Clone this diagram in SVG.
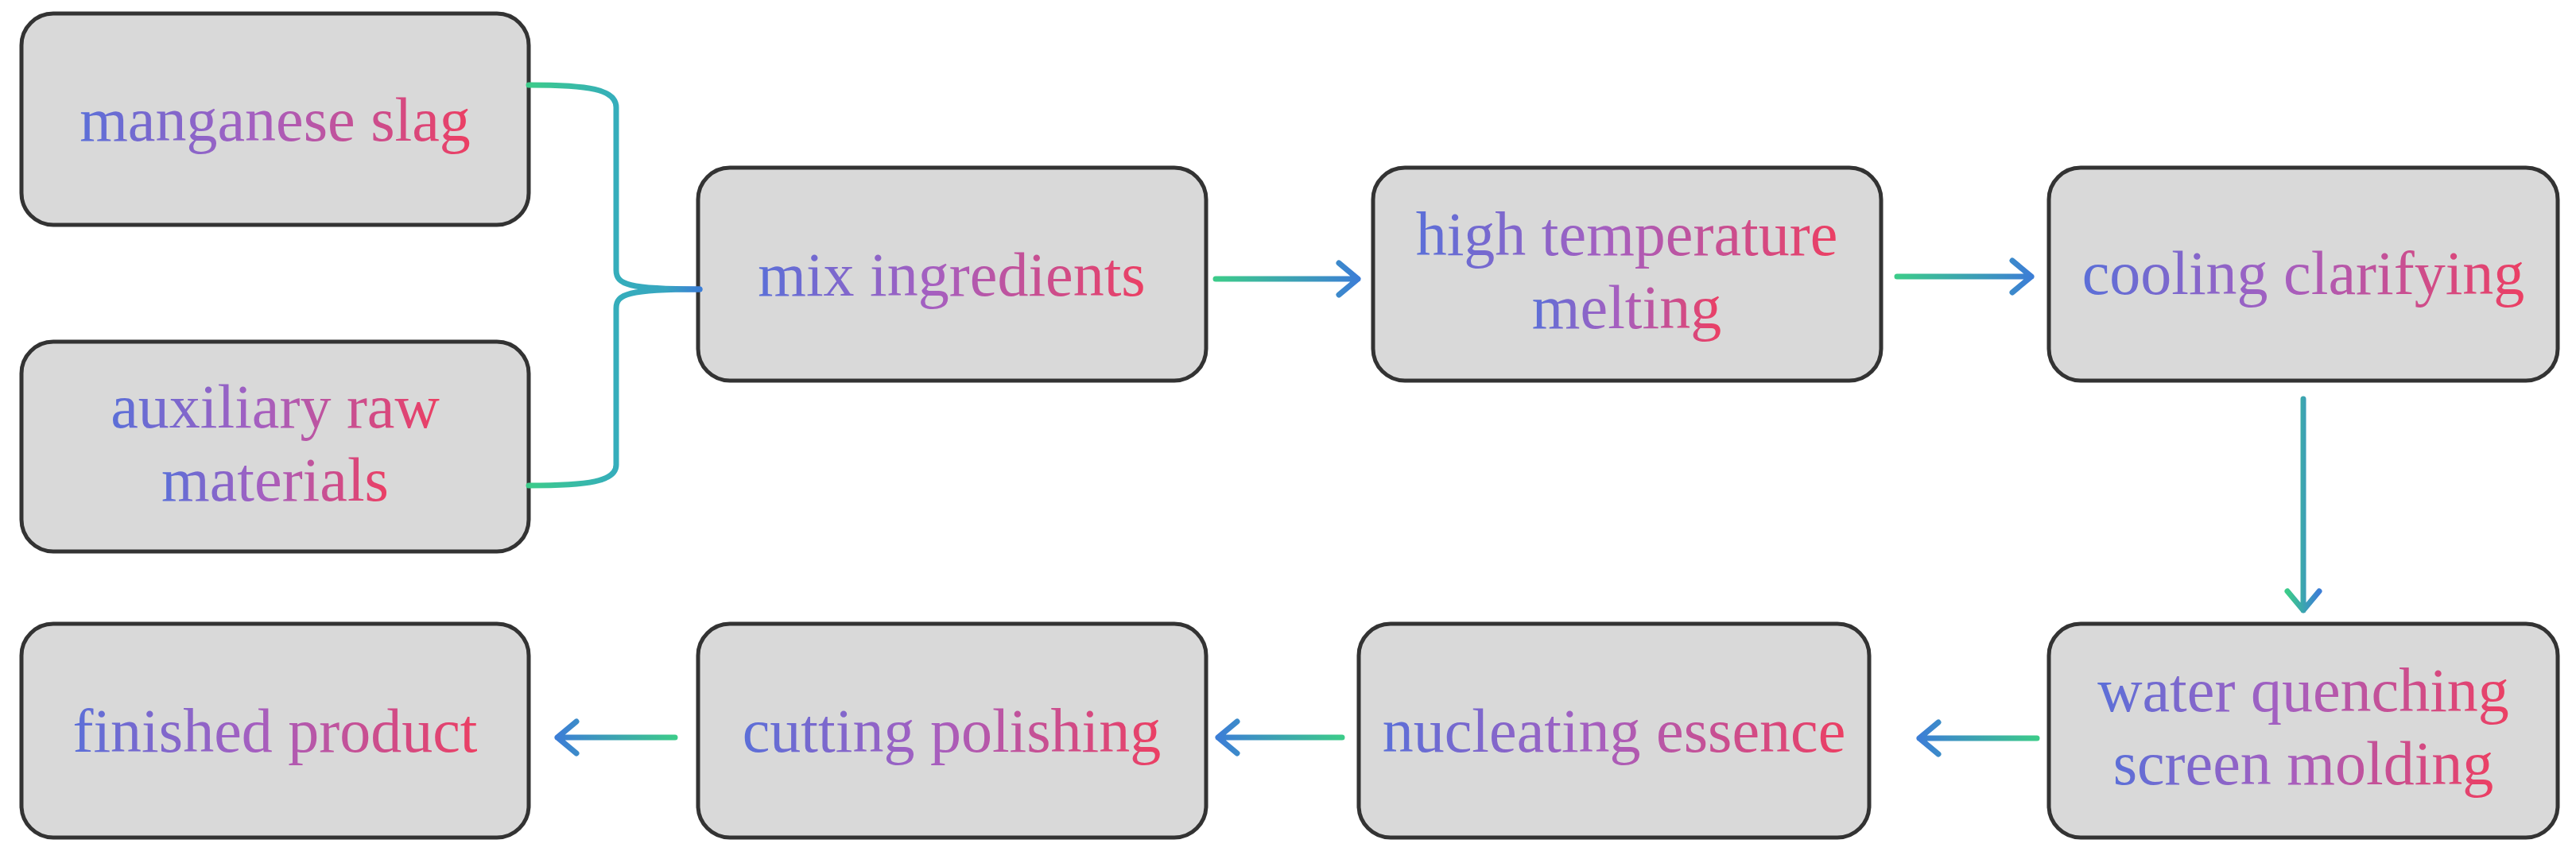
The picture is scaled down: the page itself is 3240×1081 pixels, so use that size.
<svg xmlns="http://www.w3.org/2000/svg" width="3240" height="1081" viewBox="0 0 3240 1081">
<defs>
<linearGradient id="tg" x1="0" y1="0" x2="1" y2="0"><stop offset="0" stop-color="#5b6fd8"/><stop offset="0.45" stop-color="#a55fc0"/><stop offset="1" stop-color="#ec3f63"/></linearGradient>
<linearGradient id="ar" x1="0" y1="0" x2="1" y2="0"><stop offset="0" stop-color="#3ccb8a"/><stop offset="1" stop-color="#3c7ed6"/></linearGradient>
<linearGradient id="al" x1="1" y1="0" x2="0" y2="0"><stop offset="0" stop-color="#3ccb8a"/><stop offset="1" stop-color="#3c7ed6"/></linearGradient>
<linearGradient id="ad" x1="0" y1="0" x2="1" y2="0"><stop offset="0" stop-color="#3ccb8a"/><stop offset="1" stop-color="#3c7ed6"/></linearGradient>
<linearGradient id="br" gradientUnits="userSpaceOnUse" x1="665" y1="0" x2="880" y2="0"><stop offset="0" stop-color="#3ccb8a"/><stop offset="0.5" stop-color="#35aebb"/><stop offset="0.8" stop-color="#37a6c0"/><stop offset="1" stop-color="#3c7ed6"/></linearGradient>
</defs>
<style>
.box{fill:#d9d9d9;stroke:#333;stroke-width:5}
.t{font-family:"Liberation Serif","Times New Roman",serif;font-size:78px;fill:url(#tg);text-anchor:middle}
.c{fill:none;stroke-width:7;stroke-linecap:round;stroke-linejoin:round}
</style>
<rect width="3240" height="1081" fill="#fff"/>
<g id="n1"><rect class="box" x="27" y="17" width="638" height="266" rx="40"/><text class="t" x="346" y="177">manganese slag</text></g>
<g id="n2"><rect class="box" x="27" y="430" width="638" height="264" rx="40"/><text class="t" x="346" y="538">auxiliary raw</text><text class="t" x="346" y="630">materials</text></g>
<g id="n3"><rect class="box" x="878" y="211" width="639" height="268" rx="40"/><text class="t" x="1197" y="372">mix ingredients</text></g>
<g id="n4"><rect class="box" x="1727" y="211" width="639" height="268" rx="40"/><text class="t" x="2046" y="321">high temperature</text><text class="t" x="2046" y="413">melting</text></g>
<g id="n5"><rect class="box" x="2577" y="211" width="640" height="268" rx="40"/><text class="t" x="2897" y="370">cooling clarifying</text></g>
<g id="n6"><rect class="box" x="2577" y="785" width="640" height="269" rx="40"/><text class="t" x="2897" y="895">water quenching</text><text class="t" x="2897" y="987">screen molding</text></g>
<g id="n7"><rect class="box" x="1709" y="785" width="642" height="269" rx="40"/><text class="t" x="2030" y="946">nucleating essence</text></g>
<g id="n8"><rect class="box" x="878" y="785" width="639" height="269" rx="40"/><text class="t" x="1197" y="946">cutting polishing</text></g>
<g id="n9"><rect class="box" x="27" y="785" width="638" height="269" rx="40"/><text class="t" x="346" y="946">finished product</text></g>
<g id="connectors">
<path class="c" stroke="url(#br)" d="M665,107 C740,107 775,112 775,135 L775,340 C775,358 790,364 880,364"/>
<path class="c" stroke="url(#br)" d="M665,611 C740,611 775,606 775,585 L775,388 C775,370 790,364 880,364"/>
<path class="c" stroke="url(#ar)" d="M1529,351 L1708,351 M1684,331 L1708,351 L1684,371"/>
<path class="c" stroke="url(#ar)" d="M2386,348 L2555,348 M2531,328 L2555,348 L2531,368"/>
<path class="c" stroke="url(#ad)" d="M2897,502 L2897,768 M2877,744 L2897,768 L2917,744"/>
<path class="c" stroke="url(#al)" d="M2562,929 L2414,929 M2438,909 L2414,929 L2438,949"/>
<path class="c" stroke="url(#al)" d="M1688,928 L1532,928 M1556,908 L1532,928 L1556,948"/>
<path class="c" stroke="url(#al)" d="M849,928 L701,928 M725,908 L701,928 L725,948"/>
</g>
</svg>
